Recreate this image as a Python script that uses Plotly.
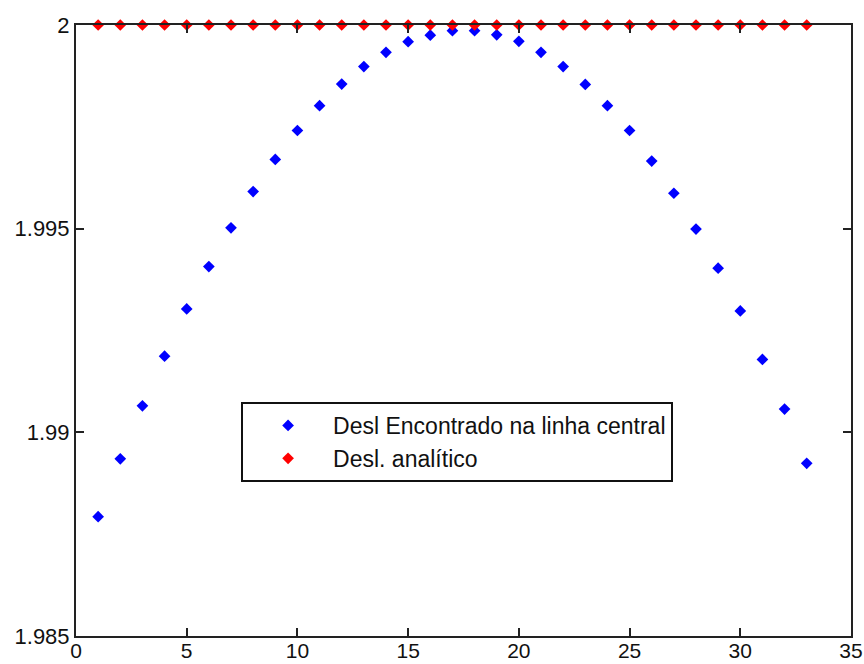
import plotly.graph_objects as go

x_vals = list(range(1, 34))
desl_encontrado = [1.98793, 1.98935, 1.99065, 1.99187, 1.99303, 1.99407, 1.99502, 1.99591,
                   1.99670, 1.99741, 1.99802, 1.99855, 1.99898, 1.99933, 1.99959, 1.99975,
                   1.99986, 1.99986, 1.99976, 1.99960, 1.99933, 1.99898, 1.99854, 1.99802,
                   1.99741, 1.99666, 1.99587, 1.99499, 1.99403, 1.99298, 1.99179, 1.99057,
                   1.98924]
desl_analitico = [2.0] * 33

x_ticks = [0, 5, 10, 15, 20, 25, 30, 35]
y_ticks = [1.985, 1.99, 1.995, 2.0]
y_tick_labels = ["1.985", "1.99", "1.995", "2"]

fig = go.Figure()
fig.add_trace(go.Scatter(x=x_vals, y=desl_encontrado, mode="markers",
                         name="Desl Encontrado na linha central",
                         marker=dict(symbol="diamond", size=9, color="#0000ff"),
                         cliponaxis=False))
fig.add_trace(go.Scatter(x=x_vals, y=desl_analitico, mode="markers",
                         name="Desl. analítico",
                         marker=dict(symbol="diamond", size=9, color="#ff0000"),
                         cliponaxis=False))

axis_common = dict(showline=True, linecolor="#222222", linewidth=2, mirror="ticks",
                   ticks="inside", ticklen=8, tickcolor="#222222", tickwidth=1.5,
                   showgrid=False, zeroline=False, automargin=False)

tick_font = dict(family="Liberation Sans, Arial, sans-serif", size=22, color="#111111")

fig.update_xaxes(range=[0, 35], tickvals=x_ticks, ticklabelstandoff=-5,
                 tickfont=dict(family="Liberation Sans, Arial, sans-serif", size=21, color="#111111"),
                 **axis_common)
fig.update_yaxes(range=[1.985, 2.0], tickvals=y_ticks, ticktext=y_tick_labels,
                 tickfont=tick_font, **axis_common)

fig.update_layout(
    width=864, height=664,
    margin=dict(l=76, r=13, t=25, b=28),
    plot_bgcolor="white", paper_bgcolor="white",
    showlegend=True,
    legend=dict(x=0.213, y=0.383, xanchor="left", yanchor="top",
                bordercolor="#111111", borderwidth=2, bgcolor="white",
                itemwidth=80, tracegroupgap=0,
                font=dict(family="Liberation Sans, Arial, sans-serif", size=23, color="#111111")),
)

fig.write_html("out.html")
